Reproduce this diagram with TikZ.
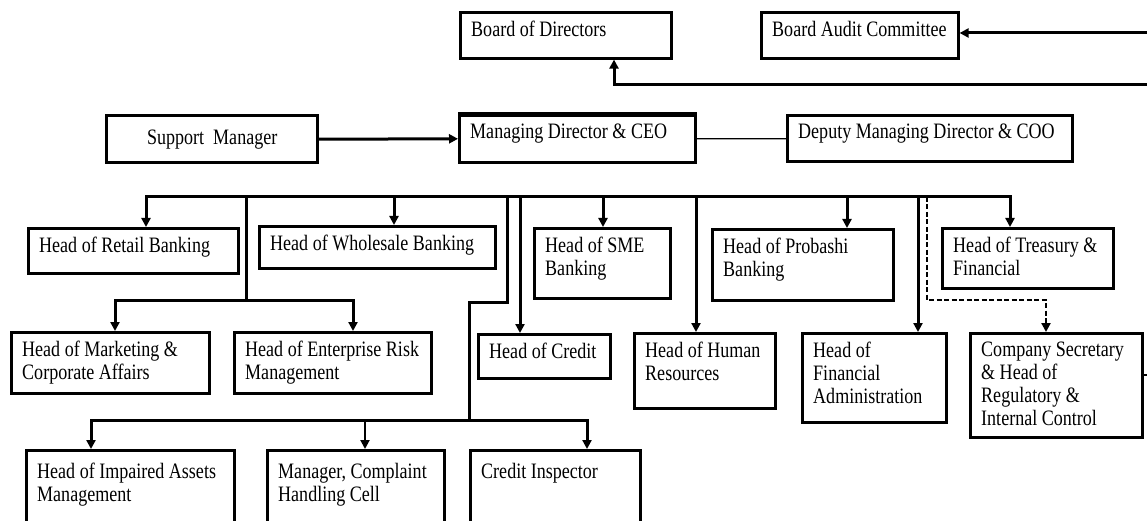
\documentclass[tikz,border=0pt]{standalone}
\usepackage{fontspec}
\setmainfont[FakeStretch=0.82]{Liberation Serif}
\usetikzlibrary{arrows.meta}
\tikzset{
  box/.style={draw, line width=2.6pt, inner sep=0pt, anchor=north west},
  thickbox/.style={box, line width=3.4pt},
  lbl/.style={anchor=north west, inner sep=0pt, align=left, xshift=12pt, yshift=-10pt,
              font=\fontsize{22}{23}\selectfont},
  conn/.style={line width=3pt, line cap=rect, line join=miter},
  arr/.style={conn, -{Triangle[length=9pt,width=9pt]}},
  thinconn/.style={line width=1.2pt}
}
\begin{document}
\begin{tikzpicture}[x=1pt, y=-1pt]
\useasboundingbox (0,0) rectangle (1147,521);
\fill[white] (0,0) rectangle (1147,521);
\clip (0,0) rectangle (1147,521);

% ---- boxes ----
\node[box, minimum width=211pt, minimum height=46pt] (bod) at (459,11) {};
\node[lbl] (bodt) at (bod.north west) {Board of Directors};
\node[box, minimum width=197pt, minimum height=46pt] (bac) at (760,11) {};
\node[lbl] (bact) at (bac.north west) {Board Audit Committee};

\node[thickbox, minimum width=211pt, minimum height=47pt, font=\fontsize{22}{23}\selectfont] (sm) at (105,114) {Support\ \ Manager};
\node[box, minimum width=236pt, minimum height=47pt] (md) at (458,114) {};
\draw[line width=4pt] (md.north west) -- (md.north east);
\node[lbl] (mdt) at (md.north west) {Managing Director \& CEO};
\node[thickbox, minimum width=285pt, minimum height=46pt] (coo) at (786,114) {};
\node[lbl] (coot) at (coo.north west) {Deputy Managing Director \& COO};

\node[box, minimum width=210pt, minimum height=45pt] (retail) at (27,227) {};
\node[lbl] (retailt) at (retail.north west) {Head of Retail Banking};
\node[box, minimum width=236pt, minimum height=42pt] (whole) at (258,225) {};
\node[lbl] (wholet) at (whole.north west) {Head of Wholesale Banking};
\node[box, minimum width=136pt, minimum height=70pt] (sme) at (533,227) {};
\node[lbl] (smet) at (sme.north west) {Head of SME\\Banking};
\node[box, minimum width=181pt, minimum height=71pt] (prob) at (711,228) {};
\node[lbl] (probt) at (prob.north west) {Head of Probashi\\Banking};
\node[thickbox, minimum width=171pt, minimum height=60pt] (treas) at (941,227) {};
\node[lbl] (treast) at (treas.north west) {Head of Treasury \&\\Financial};

\node[thickbox, minimum width=198pt, minimum height=61pt] (mkt) at (10,331) {};
\node[lbl] (mktt) at (mkt.north west) {Head of Marketing \&\\Corporate Affairs};
\node[box, minimum width=197pt, minimum height=61pt] (erm) at (233,331) {};
\node[lbl] (ermt) at (erm.north west) {Head of Enterprise Risk\\Management};
\node[thickbox, minimum width=132pt, minimum height=44pt] (credit) at (477,333) {};
\node[lbl] (creditt) at (credit.north west) {Head of Credit};
\node[box, minimum width=141pt, minimum height=75pt] (hr) at (633,332) {};
\node[lbl] (hrt) at (hr.north west) {Head of Human\\Resources};
\node[box, minimum width=144pt, minimum height=89pt] (fa) at (801,332) {};
\node[lbl] (fat) at (fa.north west) {Head of\\Financial\\Administration};
\node[thickbox, minimum width=172pt, minimum height=104pt] (cs) at (969,332) {};
\node[lbl] (cst) at (cs.north west) {Company Secretary\\\& Head of\\Regulatory \&\\Internal Control};

\node[box, minimum width=208pt, minimum height=100pt] (imp) at (25,449) {};
\node[lbl, yshift=-4pt] (impt) at (imp.north west) {Head of Impaired Assets\\Management};
\node[box, minimum width=177pt, minimum height=100pt] (compl) at (266,449) {};
\node[lbl, yshift=-4pt] (complt) at (compl.north west) {Manager, Complaint\\Handling Cell};
\node[box, minimum width=170pt, minimum height=100pt] (ci) at (469,449) {};
\node[lbl, yshift=-4pt] (cit) at (ci.north west) {Credit Inspector};

% ---- top connectors ----
\coordinate (e1) at (1147,33);
\coordinate (e2) at (1147,85);
\coordinate (k) at (614,85);
\coordinate (e3) at (1147,375);
\draw[arr] (e1) -- (e1 -| bac.east);
\draw[arr] (e2) -- (k) -- (k |- bod.south);
\draw[arr] (sm.east) -- (md.west);
\draw[thinconn] (md.east) -- (coo.west);
\draw[thinconn] (e3 -| cs.east) -- (e3);

% ---- main bus ----
\coordinate (b146) at (146,197);
\coordinate (b246) at (246,197);
\coordinate (b394) at (394,197);
\coordinate (b507) at (507,197);
\coordinate (b520) at (520,197);
\coordinate (b603) at (603,197);
\coordinate (b696) at (696,197);
\coordinate (b847) at (847,197);
\coordinate (b918) at (918,197);
\coordinate (b927) at (927,197);
\coordinate (b1010) at (1010,197);
\draw[conn] (b146) -- (b1010);
\draw[arr] (b146) -- (b146 |- retail.north);
\draw[arr] (b394) -- (b394 |- whole.north);
\draw[arr] (b520) -- (b520 |- credit.north);
\draw[arr] (b603) -- (b603 |- sme.north);
\draw[arr] (b696) -- (b696 |- hr.north);
\draw[arr] (b847) -- (b847 |- prob.north);
\draw[arr] (b918) -- (b918 |- fa.north);
\draw[arr] (b1010) -- (b1010 |- treas.north);

% marketing / ERM branch
\coordinate (c246) at (246,300);
\coordinate (c115) at (115,300);
\coordinate (c353) at (353,300);
\draw[conn] (b246) -- (c246);
\draw[conn] (c115) -- (c353);
\draw[arr] (c115) -- (c115 |- mkt.north);
\draw[arr] (c353) -- (c353 |- erm.north);

% lower branch
\coordinate (d1) at (507,302);
\coordinate (d2) at (469,302);
\coordinate (d3) at (469,420);
\coordinate (f91) at (91,420);
\coordinate (f365) at (365,420);
\coordinate (f587) at (587,420);
\draw[conn] (b507) -- (d1) -- (d2) -- (d3);
\draw[conn] (f91) -- (f587);
\draw[arr] (f91) -- (f91 |- imp.north);
\draw[arr, line width=2pt] (f365) -- (f365 |- compl.north);
\draw[arr] (f587) -- (f587 |- ci.north);

% dashed link to company secretary
\coordinate (g1) at (927,300);
\coordinate (g2) at (1046,300);
\draw[arr, line width=2.4pt, line cap=butt, dash pattern=on 5pt off 2.5pt] (b927) -- (g1) -- (g2) -- (g2 |- cs.north);
\end{tikzpicture}
\end{document}
